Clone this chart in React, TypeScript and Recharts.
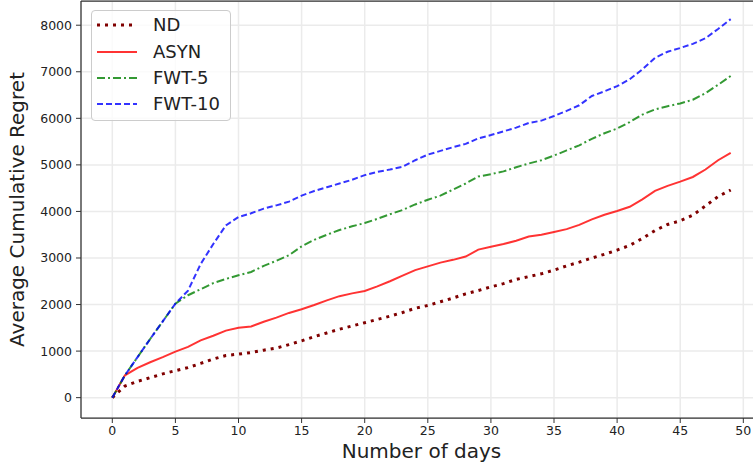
import React from 'react';
import { LineChart, Line, XAxis, YAxis, CartesianGrid, Legend, Label } from 'recharts';

const days: number[] = Array.from({ length: 50 }, (_, i) => i);

const ndValues: number[] = [0, 250, 350, 430, 510, 580, 645, 735, 830, 905, 935, 970, 1020, 1065, 1140, 1220, 1310, 1390, 1470, 1540, 1610, 1680, 1750, 1830, 1920, 1980, 2060, 2140, 2230, 2300, 2380, 2450, 2540, 2600, 2660, 2740, 2830, 2910, 3000, 3080, 3170, 3270, 3420, 3590, 3720, 3800, 3920, 4120, 4320, 4460];
const asynValues: number[] = [0, 480, 640, 760, 870, 990, 1090, 1230, 1330, 1440, 1500, 1530, 1630, 1720, 1820, 1900, 1990, 2090, 2180, 2240, 2290, 2390, 2500, 2620, 2740, 2820, 2900, 2960, 3030, 3180, 3240, 3300, 3370, 3460, 3500, 3560, 3620, 3710, 3830, 3930, 4010, 4100, 4260, 4440, 4550, 4640, 4740, 4900, 5100, 5260];
const fwt5Values: number[] = [0, 480, 870, 1260, 1640, 2020, 2200, 2330, 2460, 2550, 2630, 2700, 2830, 2940, 3060, 3250, 3390, 3500, 3600, 3680, 3750, 3840, 3940, 4030, 4150, 4250, 4340, 4470, 4600, 4750, 4800, 4860, 4950, 5030, 5100, 5200, 5310, 5420, 5560, 5680, 5780, 5920, 6080, 6190, 6260, 6320, 6400, 6540, 6720, 6910];
const fwt10Values: number[] = [0, 480, 870, 1260, 1640, 2020, 2300, 2870, 3300, 3700, 3880, 3960, 4060, 4130, 4210, 4340, 4440, 4520, 4600, 4680, 4780, 4850, 4900, 4960, 5100, 5220, 5300, 5380, 5450, 5570, 5640, 5720, 5800, 5900, 5950, 6050, 6160, 6280, 6480, 6580, 6690, 6840, 7050, 7300, 7430, 7510, 7600, 7720, 7920, 8130];

const xTicks: number[] = [0, 5, 10, 15, 20, 25, 30, 35, 40, 45, 50];
const yTicks: number[] = [0, 1000, 2000, 3000, 4000, 5000, 6000, 7000, 8000];

const seriesNames = ['ND', 'ASYN', 'FWT-5', 'FWT-10'];

const data = days.map((d, i) => ({
  day: d,
  ND: ndValues[i],
  ASYN: asynValues[i],
  'FWT-5': fwt5Values[i],
  'FWT-10': fwt10Values[i],
}));

const FONT = '"DejaVu Sans", sans-serif';

const styles: Record<string, { stroke: string; width: number; dash?: string; opacity: number }> = {
  ND: { stroke: '#800000', width: 3, dash: '3 5', opacity: 1 },
  ASYN: { stroke: '#ff0000', width: 2, opacity: 0.8 },
  'FWT-5': { stroke: '#008000', width: 2, dash: '8 3 2 3', opacity: 0.8 },
  'FWT-10': { stroke: '#0000ff', width: 2, dash: '6 3', opacity: 0.8 },
};

const renderLegend = (props: any) => {
  const payload = (props.payload || [])
    .filter((p: any) => seriesNames.includes(p.value))
    .slice()
    .sort((a: any, b: any) => seriesNames.indexOf(a.value) - seriesNames.indexOf(b.value));
  return (
    <div
      style={{
        width: 138,
        height: 108,
        border: '1px solid #cccccc',
        borderRadius: 4,
        background: 'rgba(255,255,255,0.8)',
        boxSizing: 'content-box',
        paddingTop: 1,
      }}
    >
      {payload.map((p: any) => {
        const s = styles[p.value];
        return (
          <div key={p.value} style={{ height: 26.4, display: 'flex', alignItems: 'center' }}>
            <svg width={60} height={10} style={{ display: 'block' }}>
              <line
                x1={5}
                x2={45}
                y1={5}
                y2={5}
                stroke={s.stroke}
                strokeWidth={s.width}
                strokeDasharray={s.dash}
                strokeOpacity={s.opacity}
              />
            </svg>
            <span style={{ fontFamily: FONT, fontSize: 18, color: '#222', marginLeft: 1, lineHeight: 1 }}>
              {p.value}
            </span>
          </div>
        );
      })}
    </div>
  );
};

export default function App() {
  return (
    <div style={{ position: 'absolute', left: 0, top: 0, width: 753, height: 463, overflow: 'hidden', background: '#fff' }}>
      <LineChart
        width={766}
        height={463}
        data={data}
        margin={{ top: 0, right: 4, bottom: 0, left: 0 }}
        style={{ fontFamily: FONT }}
      >
        <CartesianGrid stroke="#ebebeb" strokeWidth={1.5} />
        <XAxis
          xAxisId="top"
          orientation="top"
          dataKey="day"
          type="number"
          domain={[-2.48, 51.48]}
          ticks={xTicks}
          tick={false}
          tickLine={false}
          height={1}
          axisLine={{ stroke: '#333', strokeWidth: 1.25 }}
        />
        <XAxis
          dataKey="day"
          type="number"
          domain={[-2.48, 51.48]}
          ticks={xTicks}
          interval={0}
          height={45}
          tickSize={5}
          tickMargin={3}
          tick={{ fill: '#222', fontSize: 12.5, fontFamily: FONT }}
          tickLine={{ stroke: '#333' }}
          axisLine={{ stroke: '#333', strokeWidth: 1.25 }}
          allowDataOverflow
        >
          <Label
            value="Number of days"
            position="insideBottom"
            offset={5}
            style={{ fontSize: 20, fill: '#222', fontFamily: FONT }}
          />
        </XAxis>
        <YAxis
          type="number"
          domain={[-437, 8520]}
          ticks={yTicks}
          interval={0}
          width={81}
          tickSize={5}
          tickMargin={4}
          tick={{ fill: '#222', fontSize: 12.5, fontFamily: FONT }}
          tickLine={{ stroke: '#333' }}
          axisLine={{ stroke: '#333', strokeWidth: 1.25 }}
          allowDataOverflow
        >
          <Label
            value="Average Cumulative Regret"
            angle={-90}
            position="insideLeft"
            offset={17}
            style={{ fontSize: 20, fill: '#222', fontFamily: FONT, textAnchor: 'middle' }}
          />
        </YAxis>
        <Legend
          layout="vertical"
          align="center"
          verticalAlign="middle"
          content={renderLegend}
          wrapperStyle={{ left: 91, top: 10, width: 140, height: 110 }}
        />
        {seriesNames.map((name) => {
          const s = styles[name];
          return (
            <Line
              key={name}
              xAxisId={0}
              dataKey={name}
              name={name}
              stroke={s.stroke}
              strokeWidth={s.width}
              strokeDasharray={s.dash}
              strokeOpacity={s.opacity}
              strokeLinecap="butt"
              dot={false}
              activeDot={false}
              isAnimationActive={false}
            />
          );
        })}
      </LineChart>
    </div>
  );
}
